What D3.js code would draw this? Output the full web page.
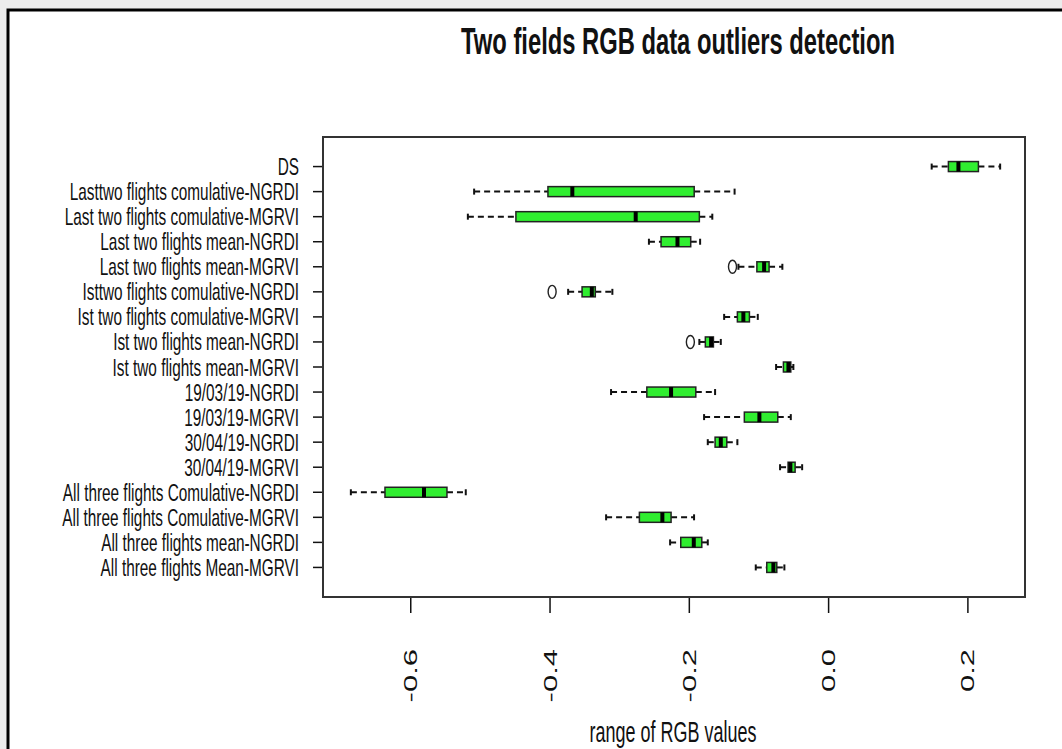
<html lang="en">
<head>
    <meta charset="UTF-8">
    <script src="https://d3js.org/d3.v7.min.js"></script>
    <style>
        body { margin: 0; background-color: #ececec; }
        svg { display: block; }
        text { font-family: "Liberation Sans", Arial, sans-serif; fill: #111; }
    </style>
</head>
<body>
<div id="here"></div>
<script>
    // categories top to bottom
    const categories = [
        "DS",
        "Lasttwo flights comulative-NGRDI",
        "Last two flights comulative-MGRVI",
        "Last two flights mean-NGRDI",
        "Last two flights mean-MGRVI",
        "Isttwo flights comulative-NGRDI",
        "Ist two flights comulative-MGRVI",
        "Ist two flights mean-NGRDI",
        "Ist two flights mean-MGRVI",
        "19/03/19-NGRDI",
        "19/03/19-MGRVI",
        "30/04/19-NGRDI",
        "30/04/19-MGRVI",
        "All three flights Comulative-NGRDI",
        "All three flights Comulative-MGRVI",
        "All three flights mean-NGRDI",
        "All three flights Mean-MGRVI"
    ];
    const whiskerLow  = [0.148, -0.509, -0.518, -0.258, -0.1295, -0.374, -0.150, -0.1856, -0.0754, -0.3124, -0.1788, -0.1735, -0.0697, -0.686, -0.3195, -0.2276, -0.1046];
    const q1          = [0.172, -0.403, -0.449, -0.2406, -0.103, -0.354, -0.131, -0.177, -0.0649, -0.261, -0.121, -0.163, -0.0582, -0.637, -0.2717, -0.2123, -0.0888];
    const median      = [0.1864, -0.368, -0.277, -0.217, -0.0926, -0.340, -0.1224, -0.1687, -0.0577, -0.2262, -0.0994, -0.1548, -0.0549, -0.581, -0.2387, -0.1936, -0.0793];
    const q3          = [0.2151, -0.193, -0.1856, -0.198, -0.0855, -0.335, -0.1137, -0.1654, -0.0543, -0.1907, -0.073, -0.1462, -0.0481, -0.548, -0.2262, -0.1821, -0.0744];
    const whiskerHigh = [0.2463, -0.135, -0.167, -0.1845, -0.0664, -0.3105, -0.1017, -0.1548, -0.0506, -0.163, -0.0543, -0.131, -0.038, -0.521, -0.1932, -0.1735, -0.0635];
    // outliers: [category, value]
    const outliers = [
        ["Last two flights mean-MGRVI", -0.138],
        ["Isttwo flights comulative-NGRDI", -0.397],
        ["Ist two flights mean-NGRDI", -0.1985]
    ];
    const xTicks = [-0.6, -0.4, -0.2, 0.0, 0.2];

    const W = 1062, H = 749;
    const sx = 0.64; // horizontal squeeze of the original picture

    var svg = d3.select("#here").append("svg")
        .attr("width", W)
        .attr("height", H);

    // outer frame
    svg.append("rect")
        .attr("x", 8).attr("y", 10)
        .attr("width", W + 20).attr("height", H + 20)
        .attr("fill", "white")
        .attr("stroke", "black")
        .attr("stroke-width", 3);

    var xSc = d3.scaleLinear().domain([-0.726, 0.282]).range([323, 1025]);
    var ySc = d3.scaleLinear().domain([-0.18, 18.18]).range([597, 137]);
    const pos = c => categories.length - categories.indexOf(c); // 1 = bottom row

    // title
    svg.append("text")
        .attr("transform", `translate(678,54) scale(0.66,1)`)
        .attr("text-anchor", "middle")
        .style("font-size", "36px")
        .style("font-weight", "bold")
        .text("Two fields RGB data outliers detection");

    // y axis ticks and labels
    categories.forEach(c => {
        const y = ySc(pos(c));
        svg.append("line")
            .attr("x1", 313).attr("x2", 323)
            .attr("y1", y).attr("y2", y)
            .attr("stroke", "#111").attr("stroke-width", 1.5);
        svg.append("text")
            .attr("transform", `translate(299,${y + 8.5}) scale(${sx},1)`)
            .attr("text-anchor", "end")
            .style("font-size", "24px")
            .text(c);
    });

    // x axis ticks and labels
    xTicks.forEach(t => {
        const x = xSc(t);
        svg.append("line")
            .attr("x1", x).attr("x2", x)
            .attr("y1", 597).attr("y2", 613)
            .attr("stroke", "#111").attr("stroke-width", 1.5);
        svg.append("text")
            .attr("transform", `translate(${x + 6.5},649) scale(0.62,1) rotate(-90)`)
            .attr("text-anchor", "end")
            .style("font-size", "31px")
            .text(t.toFixed(1));
    });

    svg.append("text")
        .attr("transform", `translate(673,742) scale(0.62,1)`)
        .attr("text-anchor", "middle")
        .style("font-size", "29px")
        .text("range of RGB values");

    // boxes
    const bh = 10, sh = 6;
    var g = svg.append("g");
    categories.forEach((c, i) => {
        const y = ySc(pos(c));
        // whiskers
        [[whiskerLow[i], q1[i]], [q3[i], whiskerHigh[i]]].forEach(w => {
            g.append("line")
                .attr("x1", xSc(w[0])).attr("x2", xSc(w[1]))
                .attr("y1", y).attr("y2", y)
                .attr("stroke", "#111").attr("stroke-width", 2)
                .attr("stroke-dasharray", "6,4");
        });
        // staples
        [whiskerLow[i], whiskerHigh[i]].forEach(v => {
            g.append("line")
                .attr("x1", xSc(v)).attr("x2", xSc(v))
                .attr("y1", y - sh / 2).attr("y2", y + sh / 2)
                .attr("stroke", "#111").attr("stroke-width", 2);
        });
        g.append("rect")
            .attr("x", xSc(q1[i]))
            .attr("y", y - bh / 2)
            .attr("width", xSc(q3[i]) - xSc(q1[i]))
            .attr("height", bh)
            .attr("fill", "#30ee30")
            .attr("stroke", "#222")
            .attr("stroke-width", 1.5);
        g.append("line")
            .attr("x1", xSc(median[i])).attr("x2", xSc(median[i]))
            .attr("y1", y - bh / 2).attr("y2", y + bh / 2)
            .attr("stroke", "black").attr("stroke-width", 4);
    });

    // outliers
    svg.selectAll("ellipse.out")
        .data(outliers)
        .enter()
        .append("ellipse")
        .attr("cx", d => xSc(d[1]))
        .attr("cy", d => ySc(pos(d[0])))
        .attr("rx", 4).attr("ry", 6.5)
        .attr("fill", "none")
        .attr("stroke", "#222")
        .attr("stroke-width", 1.4);

    // plot box
    svg.append("rect")
        .attr("x", 323).attr("y", 137)
        .attr("width", 1025 - 323).attr("height", 597 - 137)
        .attr("fill", "none")
        .attr("stroke", "#333")
        .attr("stroke-width", 2);
</script>
</body>
</html>
